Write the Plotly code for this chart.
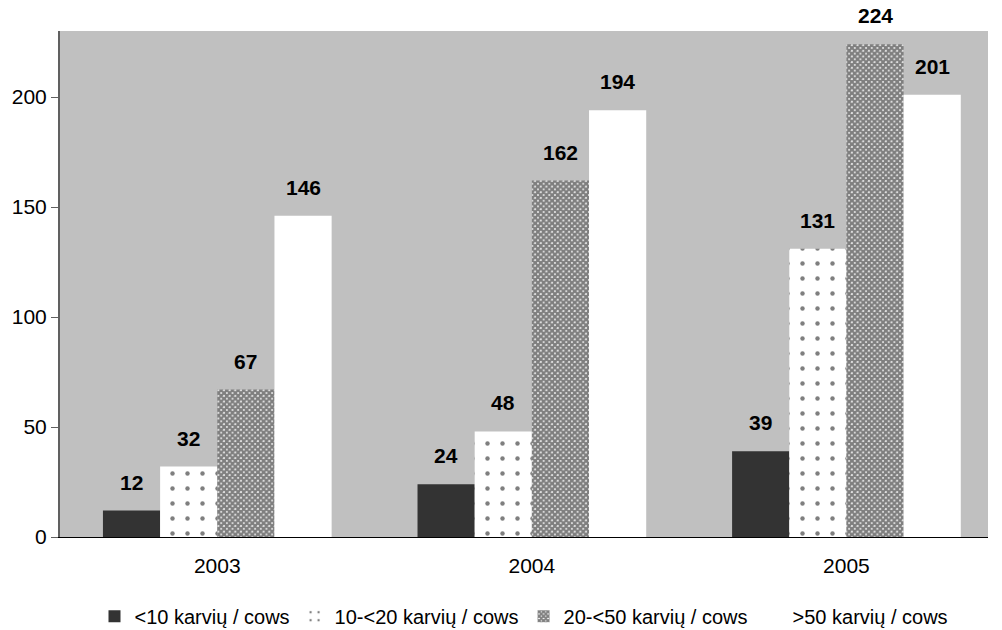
import plotly.graph_objects as go

years = ["2003", "2004", "2005"]
series_names = ["<10 karvių / cows", "10-<20 karvių / cows", "20-<50 karvių / cows", ">50 karvių / cows"]
v_lt10 = [12, 24, 39]
v_10_20 = [32, 48, 131]
v_20_50 = [67, 162, 224]
v_gt50 = [146, 194, 201]
y_ticks = [0, 50, 100, 150, 200]

FONT = "Liberation Sans, Arial"
W, H = 1002, 630
M = dict(l=60, r=14, t=31, b=93)
BARGAP = 0.273
X_RANGE = [-0.5, 2.45]

series_values = [v_lt10, v_10_20, v_20_50, v_gt50]

fig = go.Figure()
fig.add_bar(name=series_names[0], x=years, y=v_lt10,
            marker=dict(color="#333333", line=dict(width=0)))
fig.add_bar(name=series_names[1], x=years, y=v_10_20,
            marker=dict(color="white", line=dict(width=0),
                        pattern=dict(shape=".", fgcolor="black", bgcolor="white",
                                     size=15, solidity=0.07, fillmode="overlay")))
fig.add_bar(name=series_names[2], x=years, y=v_20_50,
            marker=dict(color="white", line=dict(width=0),
                        pattern=dict(shape="x", fgcolor="black", bgcolor="white",
                                     size=4, solidity=0.85, fillmode="overlay")))
fig.add_bar(name=series_names[3], x=years, y=v_gt50,
            marker=dict(color="white", line=dict(width=0)))
fig.update_traces(hoverinfo="skip")

# value labels above each bar, offset within group from the layout's bar geometry
plot_w = W - M["l"] - M["r"]
px_per_cat = plot_w / (X_RANGE[1] - X_RANGE[0])
n_series = len(series_values)
bar_px = px_per_cat * (1 - BARGAP) / n_series
for i, vals in enumerate(series_values):
    dx = (i - (n_series - 1) / 2) * bar_px
    for j, v in enumerate(vals):
        fig.add_annotation(x=j, y=v, xref="x", yref="y", text=f"<b>{v}</b>",
                           showarrow=False, xshift=dx, yshift=15, yanchor="bottom",
                           font=dict(family=FONT, size=21, color="black"))

fig.update_layout(
    width=W, height=H,
    barmode="group", bargap=BARGAP, bargroupgap=0,
    plot_bgcolor="#C0C0C0", paper_bgcolor="white",
    margin=dict(**M, autoexpand=False),
    font=dict(family=FONT, size=21, color="black"),
    showlegend=True,
    legend=dict(orientation="h", x=0.5, xanchor="center", y=-0.118, yanchor="top",
                font=dict(size=20), itemwidth=30, tracegroupgap=0,
                bgcolor="rgba(0,0,0,0)"),
    xaxis=dict(type="category", range=X_RANGE,
               showgrid=False, showline=True, linecolor="black", linewidth=1,
               ticks="outside", ticklen=10, tickcolor="rgba(0,0,0,0)",
               tickfont=dict(size=21)),
    yaxis=dict(range=[0, 230], tickvals=y_ticks, showgrid=False, zeroline=False,
               showline=True, linecolor="#606060", linewidth=2,
               ticks="outside", ticklen=7, tickcolor="#606060",
               ticklabelstandoff=0,
               tickfont=dict(size=21)),
)

fig.write_html("out.html", config={"displayModeBar": False},
               post_script="document.body.style.margin='0';document.body.style.overflow='hidden';")
